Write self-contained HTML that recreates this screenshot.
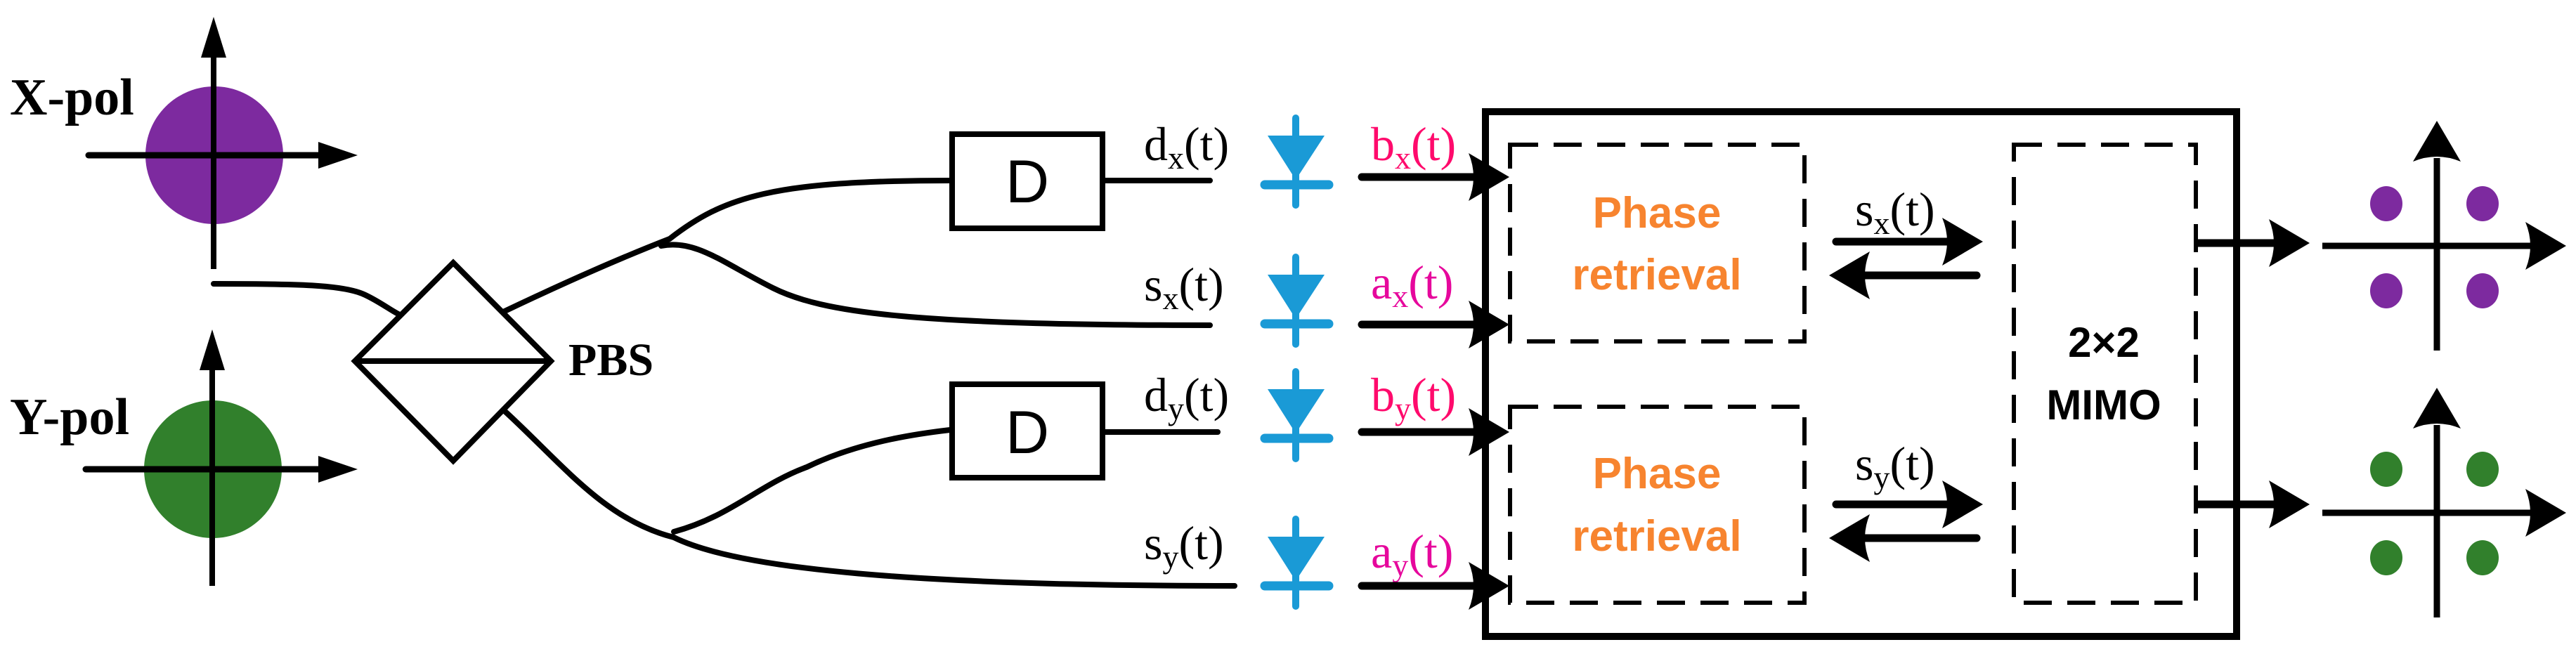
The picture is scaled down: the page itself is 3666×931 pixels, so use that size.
<!DOCTYPE html>
<html><head><meta charset="utf-8"><style>
html,body{margin:0;padding:0;background:#fff;}
svg{display:block;}
.lab{font-family:"Liberation Serif",serif;font-size:68px;}
.sub{font-size:46px;}
</style></head><body>
<svg width="3666" height="931" viewBox="0 0 3666 931" xmlns="http://www.w3.org/2000/svg">
<defs>
<path id="ahR" d="M0,0 L-58,-34 Q-44,0 -58,34 Z" fill="#000"/>
</defs>
<!-- X-pol -->
<text x="14" y="163" font-family="Liberation Serif,serif" font-weight="bold" font-size="74">X-pol</text>
<circle cx="305" cy="221" r="98" fill="#7d2a9f"/>
<line x1="304" y1="70" x2="304" y2="383" stroke="#000" stroke-width="8"/>
<path d="M304,24 L286,82 L322,82 Z" fill="#000"/>
<line x1="126" y1="221" x2="460" y2="221" stroke="#000" stroke-width="9" stroke-linecap="round"/>
<path d="M509,221 L453,202 L453,240 Z" fill="#000"/>
<!-- Y-pol -->
<text x="14" y="618" font-family="Liberation Serif,serif" font-weight="bold" font-size="74">Y-pol</text>
<circle cx="303" cy="668" r="98" fill="#31802c"/>
<line x1="302" y1="515" x2="302" y2="834" stroke="#000" stroke-width="8"/>
<path d="M302,469 L284,527 L320,527 Z" fill="#000"/>
<line x1="122" y1="668" x2="460" y2="668" stroke="#000" stroke-width="9" stroke-linecap="round"/>
<path d="M509,668 L453,649 L453,687 Z" fill="#000"/>
<!-- fibers -->
<g fill="none" stroke="#000" stroke-width="8" stroke-linecap="round">
<path d="M304,404 C420,404 490,405 520,420 C545,432 560,445 573,450"/>
<path d="M714,445 Q850,380 953,340 C1030,280 1100,257 1352,257"/>
<path d="M941,350 C990,340 1030,375 1100,410 C1170,445 1300,463 1722,463"/>
<path d="M718,585 C800,660 860,740 959,765 C1050,810 1300,834 1757,834"/>
<path d="M959,757 C1040,735 1080,690 1148,665 C1220,630 1300,618 1352,612"/>
<line x1="1569" y1="257" x2="1722" y2="257"/>
<line x1="1569" y1="615" x2="1733" y2="615"/>
</g>
<!-- PBS -->
<path d="M645,374 L784,514 L645,656 L505,514 Z" fill="#fff" stroke="#000" stroke-width="8"/>
<line x1="505" y1="514" x2="784" y2="514" stroke="#000" stroke-width="8"/>
<text x="809" y="534" font-family="Liberation Serif,serif" font-weight="bold" font-size="66">PBS</text>
<!-- D boxes -->
<rect x="1355" y="191" width="214" height="134" fill="#fff" stroke="#000" stroke-width="8"/>
<rect x="1355" y="547" width="214" height="133" fill="#fff" stroke="#000" stroke-width="8"/>
<text x="1462" y="288" text-anchor="middle" font-family="Liberation Sans,sans-serif" font-size="86">D</text>
<text x="1462" y="645" text-anchor="middle" font-family="Liberation Sans,sans-serif" font-size="86">D</text>
<!-- labels -->
<text class="lab" x="1628" y="228">d<tspan class="sub" dy="12">x</tspan><tspan dy="-12">(t)</tspan></text>
<text class="lab" x="1628" y="428">s<tspan class="sub" dy="12">x</tspan><tspan dy="-12">(t)</tspan></text>
<text class="lab" x="1628" y="585">d<tspan class="sub" dy="12">y</tspan><tspan dy="-12">(t)</tspan></text>
<text class="lab" x="1628" y="796">s<tspan class="sub" dy="12">y</tspan><tspan dy="-12">(t)</tspan></text>
<text class="lab" x="1951" y="228" fill="#ff0a6c">b<tspan class="sub" dy="12">x</tspan><tspan dy="-12">(t)</tspan></text>
<text class="lab" x="1951" y="425" fill="#e6079c">a<tspan class="sub" dy="12">x</tspan><tspan dy="-12">(t)</tspan></text>
<text class="lab" x="1951" y="585" fill="#ff0a6c">b<tspan class="sub" dy="12">y</tspan><tspan dy="-12">(t)</tspan></text>
<text class="lab" x="1951" y="808" fill="#e6079c">a<tspan class="sub" dy="12">y</tspan><tspan dy="-12">(t)</tspan></text>
<text class="lab" x="2640" y="321">s<tspan class="sub" dy="12">x</tspan><tspan dy="-12">(t)</tspan></text>
<text class="lab" x="2640" y="683">s<tspan class="sub" dy="12">y</tspan><tspan dy="-12">(t)</tspan></text>
<!-- photodiodes -->
<g fill="#1a9ad6" stroke="#1a9ad6" stroke-linecap="round">
<g transform="translate(0,0)"><line x1="1844" y1="168" x2="1844" y2="292" stroke-width="10"/><path d="M1804,193 L1885,193 L1844,256 Z" stroke="none"/><line x1="1800" y1="263" x2="1891" y2="263" stroke-width="13"/></g>
<g transform="translate(0,198)"><line x1="1844" y1="168" x2="1844" y2="292" stroke-width="10"/><path d="M1804,193 L1885,193 L1844,256 Z" stroke="none"/><line x1="1800" y1="263" x2="1891" y2="263" stroke-width="13"/></g>
<g transform="translate(0,361)"><line x1="1844" y1="168" x2="1844" y2="292" stroke-width="10"/><path d="M1804,193 L1885,193 L1844,256 Z" stroke="none"/><line x1="1800" y1="263" x2="1891" y2="263" stroke-width="13"/></g>
<g transform="translate(0,571)"><line x1="1844" y1="168" x2="1844" y2="292" stroke-width="10"/><path d="M1804,193 L1885,193 L1844,256 Z" stroke="none"/><line x1="1800" y1="263" x2="1891" y2="263" stroke-width="13"/></g>
</g>
<!-- main box -->
<rect x="2114" y="159" width="1069" height="747" fill="none" stroke="#000" stroke-width="10"/>
<g fill="none" stroke="#000" stroke-width="6" stroke-dasharray="40 22">
<rect x="2149" y="206" width="419" height="280"/>
<rect x="2149" y="579" width="419" height="279"/>
<rect x="2866" y="206" width="259" height="652"/>
</g>
<g font-family="Liberation Sans,sans-serif" font-weight="bold" font-size="62" fill="#f7842f" text-anchor="middle">
<text x="2358" y="324">Phase</text><text x="2358" y="412">retrieval</text>
<text x="2358" y="695">Phase</text><text x="2358" y="784">retrieval</text>
</g>
<g font-family="Liberation Sans,sans-serif" font-weight="bold" font-size="60" text-anchor="middle">
<text x="2994" y="508">2×2</text><text x="2994" y="597">MIMO</text>
</g>
<!-- arrows -->
<g stroke="#000" stroke-width="11" stroke-linecap="round">
<line x1="1938" y1="252" x2="2100" y2="252"/>
<line x1="1938" y1="462" x2="2100" y2="462"/>
<line x1="1938" y1="615" x2="2100" y2="615"/>
<line x1="1938" y1="834" x2="2100" y2="834"/>
<line x1="2613" y1="344" x2="2790" y2="344"/>
<line x1="2635" y1="392" x2="2813" y2="392"/>
<line x1="2613" y1="718" x2="2790" y2="718"/>
<line x1="2635" y1="766" x2="2813" y2="766"/>
<line x1="3125" y1="346" x2="3250" y2="346" stroke-linecap="butt"/>
<line x1="3125" y1="718" x2="3250" y2="718" stroke-linecap="butt"/>
</g>
<use href="#ahR" x="2148" y="252"/><use href="#ahR" x="2148" y="462"/>
<use href="#ahR" x="2148" y="615"/><use href="#ahR" x="2148" y="834"/>
<use href="#ahR" x="2822" y="344"/><use href="#ahR" x="2822" y="718"/>
<use href="#ahR" transform="translate(2603,392) scale(-1,1)"/>
<use href="#ahR" transform="translate(2603,766) scale(-1,1)"/>
<use href="#ahR" x="3287" y="346"/><use href="#ahR" x="3287" y="718"/>
<!-- constellations -->
<g stroke="#000" stroke-width="9">
<line x1="3305" y1="350" x2="3610" y2="350"/>
<line x1="3468" y1="225" x2="3468" y2="499"/>
<line x1="3305" y1="730" x2="3610" y2="730"/>
<line x1="3468" y1="605" x2="3468" y2="879"/>
</g>
<use href="#ahR" x="3652" y="350"/><use href="#ahR" x="3652" y="730"/>
<use href="#ahR" transform="translate(3468,172) rotate(-90)"/>
<use href="#ahR" transform="translate(3468,552) rotate(-90)"/>
<g fill="#7d2a9f"><ellipse cx="3396" cy="290" rx="23" ry="25"/><ellipse cx="3533" cy="290" rx="23" ry="25"/><ellipse cx="3396" cy="414" rx="23" ry="25"/><ellipse cx="3533" cy="414" rx="23" ry="25"/></g>
<g fill="#31802c"><ellipse cx="3396" cy="668" rx="23" ry="25"/><ellipse cx="3533" cy="668" rx="23" ry="25"/><ellipse cx="3396" cy="794" rx="23" ry="25"/><ellipse cx="3533" cy="794" rx="23" ry="25"/></g>
</svg>
</body></html>
